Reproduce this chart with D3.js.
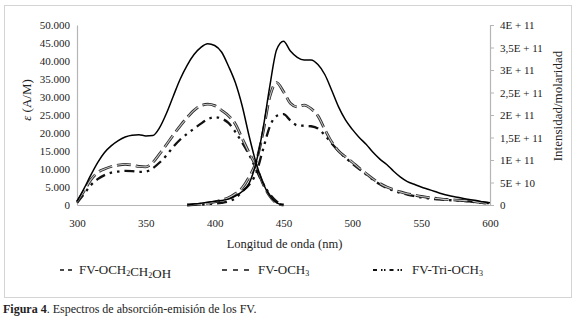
<!DOCTYPE html>
<html>
<head>
<meta charset="utf-8">
<script src="https://cdn.jsdelivr.net/npm/d3@7"></script>
<style>
  body { margin: 0; background: #fff; }
</style>
</head>
<body>
<div id="viz"></div>
<script>
//-------Data-------------------------------
var absWl = [300, 305, 310, 315, 320, 325, 330, 335, 340, 345, 350, 355, 360, 365, 370, 375,
             380, 385, 390, 395, 400, 405, 410, 415, 420, 425, 430, 435, 440, 445, 450];
var absEtOH = [1000, 4500, 8300, 11800, 14600, 16500, 17900, 18900, 19400, 19500, 19200, 19300, 21500, 25500, 30300, 35000,
               38800, 41800, 43800, 44800, 44300, 42500, 38600, 34000, 27500, 19200, 11800, 6200, 2600, 600, 0];
var absOCH3 = [800, 3800, 7000, 9000, 10000, 10700, 11100, 11300, 11100, 10700, 10600, 11800, 14200, 16800, 19500, 22000,
               24300, 26300, 27600, 28000, 27600, 26300, 24800, 22500, 18500, 14500, 10800, 6000, 2500, 500, 0];
var absTri = [600, 3000, 5500, 7200, 8300, 9000, 9300, 9500, 9400, 9200, 9300, 10200, 11800, 13800, 16200, 18200,
              19800, 21200, 22600, 23800, 24400, 24000, 22800, 20300, 17300, 14000, 10000, 6000, 3000, 1000, 0];

var emWl = [380, 385, 390, 395, 400, 405, 410, 415, 420, 425, 430, 435, 440, 445, 450, 455, 460, 465, 470, 475,
            480, 485, 490, 495, 500, 505, 510, 515, 520, 525, 530, 535, 540, 545, 550, 555, 560, 565, 570, 575,
            580, 585, 590, 595, 600];
// emission in units of 1E+11
var emEtOH = [0, 0.02, 0.04, 0.06, 0.08, 0.10, 0.13, 0.20, 0.30, 0.48, 0.93, 1.67, 2.63, 3.45, 3.64, 3.42, 3.28, 3.22, 3.22, 3.12,
              2.90, 2.55, 2.18, 1.89, 1.68, 1.50, 1.35, 1.17, 1.02, 0.90, 0.75, 0.62, 0.52, 0.46, 0.40, 0.35, 0.30, 0.25, 0.21, 0.18,
              0.15, 0.12, 0.10, 0.07, 0.05];
var emOCH3 = [0, 0.01, 0.02, 0.04, 0.07, 0.11, 0.16, 0.25, 0.38, 0.62, 0.95, 1.59, 2.40, 2.72, 2.52, 2.26, 2.18, 2.22, 2.14, 1.98,
              1.68, 1.40, 1.20, 1.07, 0.95, 0.82, 0.70, 0.58, 0.48, 0.40, 0.34, 0.29, 0.25, 0.22, 0.19, 0.17, 0.15, 0.13, 0.12, 0.11,
              0.10, 0.09, 0.07, 0.05, 0.04];
var emTri = [0, 0.01, 0.01, 0.02, 0.03, 0.05, 0.08, 0.15, 0.30, 0.45, 0.70, 1.22, 1.74, 1.98, 2.02, 1.88, 1.77, 1.76, 1.75, 1.70,
             1.55, 1.37, 1.20, 1.05, 0.92, 0.80, 0.68, 0.56, 0.46, 0.38, 0.32, 0.27, 0.23, 0.20, 0.17, 0.15, 0.13, 0.12, 0.11, 0.10,
             0.09, 0.08, 0.06, 0.05, 0.04];

var xTicks = [300, 350, 400, 450, 500, 550, 600];
var leftTicks = [0, 5000, 10000, 15000, 20000, 25000, 30000, 35000, 40000, 45000, 50000];
var leftLabels = ["0", "5.000", "10.000", "15.000", "20.000", "25.000", "30.000", "35.000", "40.000", "45.000", "50.000"];
var rightTicks = [0, 0.5, 1, 1.5, 2, 2.5, 3, 3.5, 4];
var rightLabels = ["0", "5E + 10", "1E + 11", "1,5E + 11", "2E + 11", "2,5E + 11", "3E + 11", "3,5E + 11", "4E + 11"];

//---------------------------------
var width = 575, height = 320;
var plotLeft = 77, plotRight = 490, plotTop = 25, plotBottom = 205;
var serif = "'Liberation Serif', 'Times New Roman', serif";

var svg = d3.select("#viz").append("svg")
    .attr("width", width)
    .attr("height", height);

// outer frame
svg.append("rect")
    .attr("x", 4.5).attr("y", 5.5)
    .attr("width", 567).attr("height", 292)
    .style("fill", "none")
    .style("stroke", "#d4d4d4")
    .style("stroke-width", "1px");

//------Scales & axes-----------
var xScale = d3.scaleLinear().domain([300, 600]).range([plotLeft, plotRight]);
var yLeft = d3.scaleLinear().domain([0, 50000]).range([plotBottom, plotTop]);
var yRight = d3.scaleLinear().domain([0, 4]).range([plotBottom, plotTop]);

var xAxis = d3.axisBottom(xScale).tickValues(xTicks).tickSize(0).tickPadding(14).tickFormat(d3.format("d"));
var gX = svg.append("g").attr("transform", "translate(0," + plotBottom + ")").call(xAxis);

var lAxis = d3.axisLeft(yLeft).tickValues(leftTicks).tickSize(0).tickPadding(7)
    .tickFormat((d, i) => leftLabels[i]);
var gL = svg.append("g").attr("transform", "translate(" + plotLeft + ",0)").call(lAxis);

var rAxis = d3.axisRight(yRight).tickValues(rightTicks).tickSize(4).tickPadding(6)
    .tickFormat((d, i) => rightLabels[i]);
var gR = svg.append("g").attr("transform", "translate(" + plotRight + ",0)").call(rAxis);

[gX, gL, gR].forEach(g => {
  g.select(".domain").style("stroke", "#b5b5b5").style("stroke-width", "1.2px");
  g.selectAll(".tick line").style("stroke", "#b5b5b5");
  g.selectAll("text").style("font-size", "11px");
});

// axis titles
svg.append("text")
    .attr("x", (plotLeft + plotRight) / 2 + 1).attr("y", 248)
    .attr("text-anchor", "middle")
    .style("font-size", "12.5px")
    .text("Longitud de onda (nm)");

svg.append("text")
    .attr("transform", "translate(31,100) rotate(-90)")
    .attr("text-anchor", "middle")
    .style("font-size", "13px")
    .html('<tspan font-style="italic">ε</tspan> (A/M)');

svg.append("text")
    .attr("transform", "translate(562,106) rotate(-90)")
    .attr("text-anchor", "middle")
    .style("font-size", "13px")
    .text("Intensidad/molaridad");

//------Lines--------------------
var absLine = d3.line().curve(d3.curveMonotoneX)
    .x((d, i) => xScale(absWl[i])).y(d => yLeft(d));
var emLine = d3.line().curve(d3.curveMonotoneX)
    .x((d, i) => xScale(emWl[i])).y(d => yRight(d));

var plot = svg.append("g");

function drawSeries(path, style) {
  style.forEach(s => {
    plot.append("path")
      .attr("d", path)
      .style("fill", "none")
      .style("stroke", s.color)
      .style("stroke-width", s.w + "px")
      .style("stroke-dasharray", s.dash || null)
      .style("stroke-linejoin", "round");
  });
}

var styleTri = [{color: "#111", w: 2.3, dash: "10,5,2.5,5,2.5,5"}];
var styleOCH3 = [{color: "#2a2a2a", w: 2.8, dash: "14,5"}, {color: "#c4c4c4", w: 1.1, dash: "14,5"}];
var styleEtOH = [{color: "#000", w: 1.5}];

drawSeries(absLine(absTri), styleTri);
drawSeries(emLine(emTri), styleTri);
drawSeries(absLine(absOCH3), styleOCH3);
drawSeries(emLine(emOCH3), styleOCH3);
drawSeries(absLine(absEtOH), styleEtOH);
drawSeries(emLine(emEtOH), styleEtOH);

//------Legend--------------------
var legend = svg.append("g");
function legendSample(x1, x2, style) {
  style.forEach(s => {
    legend.append("line")
      .attr("x1", x1).attr("x2", x2).attr("y1", 270).attr("y2", 270)
      .style("stroke", s.color).style("stroke-width", s.w + "px")
      .style("stroke-dasharray", s.dash);
  });
}
legendSample(60, 72, [{color: "#111", w: 1.5, dash: "4,4"}]);
legendSample(222, 250, [{color: "#111", w: 1.5, dash: "5,6"}]);
legendSample(373, 406, [{color: "#111", w: 1.8, dash: "4,4,1.5,1.5,1.5,4"}]);

function legendText(x, parts) {
  var t = legend.append("text").attr("x", x).attr("y", 274).style("font-size", "13px");
  parts.forEach(p => {
    if (p.sub) {
      t.append("tspan").attr("dy", 2).style("font-size", "8px").text(p.s);
      t.append("tspan").attr("dy", -2).text("");
    } else {
      t.append("tspan").text(p.s);
    }
  });
}
legendText(79, [{s: "FV-OCH"}, {s: "2", sub: true}, {s: "CH"}, {s: "2", sub: true}, {s: "OH"}]);
legendText(258, [{s: "FV-OCH"}, {s: "3", sub: true}]);
legendText(412, [{s: "FV-Tri-OCH"}, {s: "3", sub: true}]);

//------Caption--------------------
var cap = svg.append("text").attr("x", 3).attr("y", 313).style("font-size", "12px");
cap.append("tspan").style("font-weight", "bold").text("Figura 4");
cap.append("tspan").text(". Espectros de absorción-emisión de los FV.");

// one serif face for every text
svg.selectAll("text").style("font-family", serif).style("fill", "#222");
</script>
</body>
</html>
